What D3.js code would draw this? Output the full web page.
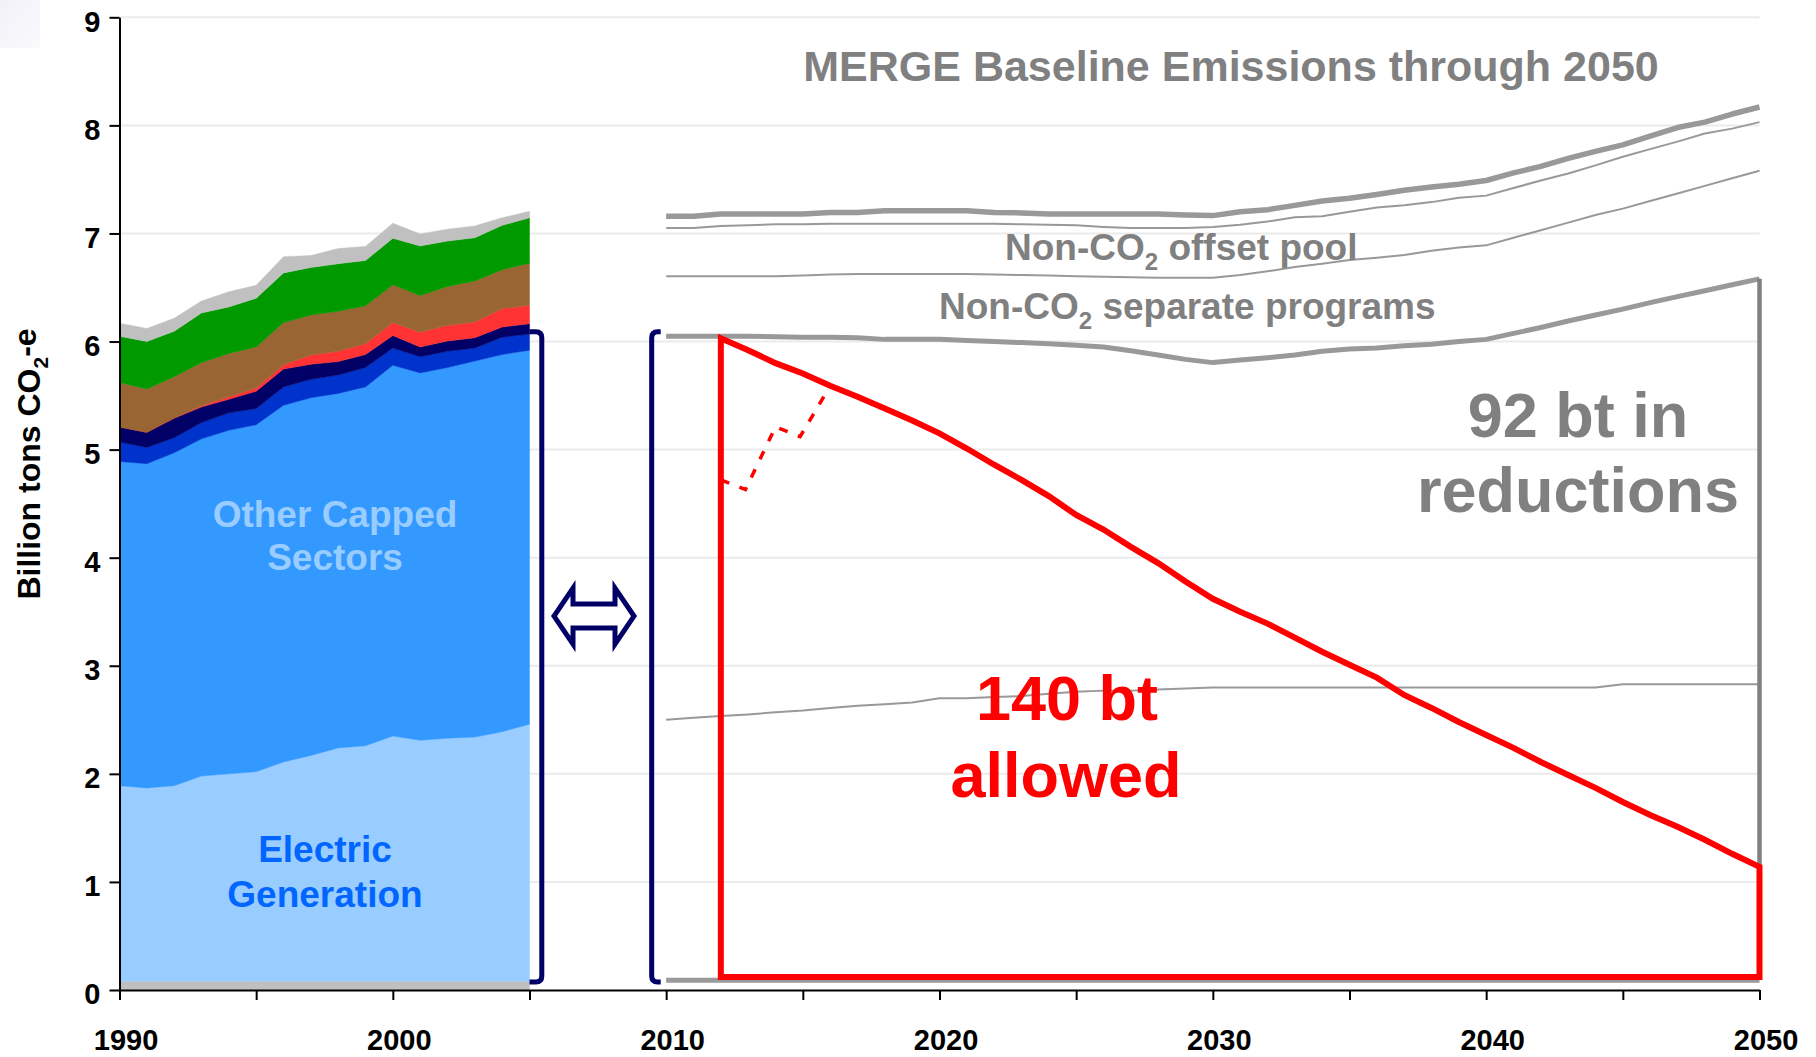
<!DOCTYPE html>
<html>
<head>
<meta charset="utf-8">
<script src="https://cdn.jsdelivr.net/npm/d3@7"></script>
<style>
  html, body { margin: 0; padding: 0; background: #ffffff; }
  svg { display: block; font-family: "Liberation Sans", Arial, Helvetica, sans-serif; font-weight: bold; }
</style>
</head>
<body>
<svg id="chart" width="1816" height="1057"></svg>
<script>
// ---- Historical inventory 1990–2005: thickness of each stacked layer (billion tons CO2-e)
const histYears   = [1990, 1991, 1992, 1993, 1994, 1995, 1996, 1997, 1998, 1999, 2000, 2001, 2002, 2003, 2004, 2005];
const baseGray    = [0.08, 0.08, 0.08, 0.08, 0.08, 0.08, 0.08, 0.08, 0.08, 0.08, 0.08, 0.08, 0.08, 0.08, 0.08, 0.08];
const electric    = [1.81, 1.79, 1.81, 1.90, 1.92, 1.94, 2.03, 2.09, 2.16, 2.18, 2.27, 2.23, 2.25, 2.26, 2.31, 2.38];
const otherCapped = [3.00, 3.00, 3.08, 3.12, 3.18, 3.21, 3.30, 3.31, 3.28, 3.32, 3.43, 3.40, 3.43, 3.48, 3.49, 3.46];
const darkBlue    = [0.18, 0.15, 0.14, 0.15, 0.16, 0.15, 0.17, 0.17, 0.17, 0.18, 0.16, 0.15, 0.15, 0.12, 0.16, 0.15];
const navy        = [0.14, 0.14, 0.18, 0.145, 0.125, 0.16, 0.165, 0.14, 0.125, 0.12, 0.115, 0.09, 0.095, 0.095, 0.095, 0.095];
const redBand     = [0.00, 0.00, 0.005, 0.01, 0.025, 0.03, 0.04, 0.085, 0.095, 0.10, 0.12, 0.135, 0.145, 0.145, 0.17, 0.17];
const brown       = [0.41, 0.40, 0.38, 0.40, 0.40, 0.38, 0.39, 0.37, 0.37, 0.35, 0.35, 0.34, 0.36, 0.38, 0.36, 0.39];
const green       = [0.43, 0.44, 0.42, 0.46, 0.43, 0.45, 0.46, 0.44, 0.44, 0.42, 0.43, 0.46, 0.42, 0.40, 0.41, 0.42];
const topGray     = [0.12, 0.12, 0.12, 0.11, 0.14, 0.12, 0.15, 0.11, 0.14, 0.13, 0.14, 0.11, 0.11, 0.11, 0.07, 0.06];

// ---- MERGE baseline projections 2010–2050
const projYears = [2010, 2011, 2012, 2013, 2014, 2015, 2016, 2017, 2018, 2019, 2020,
                   2021, 2022, 2023, 2024, 2025, 2026, 2027, 2028, 2029, 2030,
                   2031, 2032, 2033, 2034, 2035, 2036, 2037, 2038, 2039, 2040,
                   2041, 2042, 2043, 2044, 2045, 2046, 2047, 2048, 2049, 2050];
const baselineTotal = [7.16, 7.16, 7.18, 7.18, 7.18, 7.18, 7.195, 7.195, 7.21, 7.21, 7.21,
                       7.21, 7.195, 7.19, 7.18, 7.18, 7.18, 7.18, 7.18, 7.17, 7.165,
                       7.20, 7.22, 7.26, 7.30, 7.325, 7.36, 7.40, 7.43, 7.455, 7.49,
                       7.56, 7.62, 7.695, 7.76, 7.82, 7.90, 7.98, 8.03, 8.105, 8.17];
const offsetUpper   = [7.05, 7.05, 7.07, 7.075, 7.085, 7.085, 7.09, 7.09, 7.09, 7.09, 7.09,
                       7.09, 7.09, 7.085, 7.08, 7.075, 7.06, 7.05, 7.05, 7.05, 7.06,
                       7.08, 7.11, 7.15, 7.16, 7.20, 7.24, 7.26, 7.29, 7.33, 7.35,
                       7.42, 7.49, 7.555, 7.63, 7.71, 7.78, 7.85, 7.925, 7.97, 8.03];
const offsetLower   = [6.605, 6.605, 6.605, 6.605, 6.605, 6.61, 6.62, 6.625, 6.625, 6.625, 6.625,
                       6.625, 6.62, 6.615, 6.61, 6.605, 6.60, 6.595, 6.59, 6.59, 6.59,
                       6.615, 6.65, 6.69, 6.72, 6.755, 6.775, 6.80, 6.84, 6.87, 6.89,
                       6.96, 7.03, 7.10, 7.17, 7.23, 7.30, 7.37, 7.44, 7.51, 7.58];
const separateUpper = [6.05, 6.05, 6.05, 6.05, 6.045, 6.04, 6.04, 6.035, 6.02, 6.02, 6.02,
                       6.01, 6.00, 5.99, 5.98, 5.965, 5.95, 5.915, 5.875, 5.835, 5.805,
                       5.83, 5.85, 5.875, 5.91, 5.93, 5.94, 5.96, 5.975, 6.00, 6.02,
                       6.075, 6.13, 6.19, 6.245, 6.30, 6.36, 6.415, 6.47, 6.525, 6.58];
const lowerThin     = [2.50, 2.52, 2.535, 2.55, 2.57, 2.585, 2.61, 2.63, 2.645, 2.66, 2.70,
                       2.70, 2.71, 2.72, 2.74, 2.76, 2.77, 2.77, 2.78, 2.79, 2.80,
                       2.80, 2.80, 2.80, 2.80, 2.80, 2.80, 2.80, 2.80, 2.80, 2.80,
                       2.80, 2.80, 2.80, 2.80, 2.83, 2.83, 2.83, 2.83, 2.83, 2.83];

// ---- Emissions cap path 2012–2050
const capYears  = [2012, 2013, 2014, 2015, 2016, 2017, 2018, 2019, 2020, 2021, 2022, 2023, 2024,
                   2025, 2026, 2027, 2028, 2029, 2030, 2031, 2032, 2033, 2034, 2035, 2036, 2037,
                   2038, 2039, 2040, 2041, 2042, 2043, 2044, 2045, 2046, 2047, 2048, 2049, 2050];
const capValues = [6.03, 5.92, 5.80, 5.705, 5.59, 5.49, 5.38, 5.27, 5.15, 5.01, 4.86, 4.72, 4.57,
                   4.395, 4.26, 4.10, 3.95, 3.78, 3.62, 3.50, 3.39, 3.26, 3.13, 3.01, 2.89, 2.73,
                   2.61, 2.48, 2.36, 2.24, 2.11, 1.99, 1.87, 1.74, 1.62, 1.51, 1.39, 1.26, 1.14];
const capFloor   = 0.12;
const floorLevel = 0.09;

// Early-banking excursion (dotted)
const bankYears  = [2012, 2012.9, 2014, 2014.9, 2016];
const bankValues = [4.72, 4.63, 5.21, 5.12, 5.59];

// ---- Axis ticks
const yTicks = [0, 1, 2, 3, 4, 5, 6, 7, 8, 9];
const xTicks = [1990, 1995, 2000, 2005, 2010, 2015, 2020, 2025, 2030, 2035, 2040, 2045, 2050];

// ---- Drawing
const FONT = '"Liberation Sans", Arial, Helvetica, sans-serif';
const svg = d3.select("#chart");
const x = d3.scaleLinear().domain([1990, 2050]).range([119.5, 1759.5]);
const y = d3.scaleLinear().domain([0, 9]).range([990, 17.3]);

// faint slide corner
const corner = svg.append("defs").append("linearGradient").attr("id", "cornerFade")
  .attr("x1", 0).attr("y1", 0).attr("x2", 1).attr("y2", 1);
corner.append("stop").attr("offset", 0).attr("stop-color", "#f1f1f8");
corner.append("stop").attr("offset", 1).attr("stop-color", "#fafafd");
svg.append("rect").attr("x", 0).attr("y", 0).attr("width", 40).attr("height", 48).attr("fill", "url(#cornerFade)");

// horizontal gridlines
svg.append("g").selectAll("line").data(yTicks.filter(d => d > 0)).join("line")
  .attr("x1", x(1990)).attr("x2", x(2050))
  .attr("y1", d => y(d)).attr("y2", d => y(d))
  .attr("stroke", "#ebebeb").attr("stroke-width", 2);

// stacked historical areas
const layerKeys = ["baseGray", "electric", "otherCapped", "darkBlue", "navy", "redBand", "brown", "green", "topGray"];
const layerSeries = { baseGray, electric, otherCapped, darkBlue, navy, redBand, brown, green, topGray };
const layerColors = {
  baseGray: "#c0c0c0", electric: "#99ccff", otherCapped: "#3399ff", darkBlue: "#0033cc",
  navy: "#000066", redBand: "#ff3333", brown: "#996633", green: "#009900", topGray: "#c0c0c0"
};
const table = histYears.map((yr, i) => {
  const row = { year: yr };
  layerKeys.forEach(k => { row[k] = layerSeries[k][i]; });
  return row;
});
const stacked = d3.stack().keys(layerKeys)(table);
const area = d3.area().x(d => x(d.data.year)).y0(d => y(d[0])).y1(d => y(d[1]));
svg.append("g").selectAll("path").data(stacked).join("path")
  .attr("d", area)
  .attr("fill", d => layerColors[d.key])
  .attr("stroke", d => layerColors[d.key])
  .attr("stroke-width", 0.5);

// baseline projection lines
const line = d3.line().x(d => x(d[0])).y(d => y(d[1]));
const pair = vals => projYears.map((yr, i) => [yr, vals[i]]);
const projLines = [
  { vals: baselineTotal, w: 5.5 },
  { vals: offsetUpper,   w: 2 },
  { vals: offsetLower,   w: 2 },
  { vals: separateUpper, w: 5 },
  { vals: lowerThin,     w: 2 }
];
svg.append("g").selectAll("path").data(projLines).join("path")
  .attr("d", d => line(pair(d.vals)))
  .attr("fill", "none").attr("stroke", "#999999")
  .attr("stroke-width", d => d.w).attr("stroke-linejoin", "round");

// floor line under the cap
svg.append("path")
  .attr("d", line([[projYears[0], floorLevel], [projYears[projYears.length - 1], floorLevel]]))
  .attr("stroke", "#999999").attr("stroke-width", 5).attr("fill", "none");

// reductions bracket at 2050
svg.append("path")
  .attr("d", line([[2050, separateUpper[separateUpper.length - 1]], [2050, capValues[capValues.length - 1]]]))
  .attr("stroke", "#808080").attr("stroke-width", 4.5).attr("fill", "none");

// cap outline: rises at 2012, follows the cap path, closes along the floor
const capOutline = [[capYears[0], capFloor]]
  .concat(capYears.map((yr, i) => [yr, capValues[i]]))
  .concat([[capYears[capYears.length - 1], capFloor]]);
svg.append("path")
  .attr("d", line(capOutline) + "Z")
  .attr("fill", "none").attr("stroke", "#ff0000")
  .attr("stroke-width", 6).attr("stroke-linejoin", "miter");

// dotted banking excursion
svg.append("path")
  .attr("d", line(bankYears.map((yr, i) => [yr, bankValues[i]])))
  .attr("fill", "none").attr("stroke", "#ff0000")
  .attr("stroke-width", 3.5).attr("stroke-dasharray", "9,11");

// navy brackets and double arrow
const bracketTop = 6.09, bracketBottom = 0.075;
function bracket(xv, xh) {
  const t = y(bracketTop), b = y(bracketBottom), r = 6 * Math.sign(xh - xv);
  const p = d3.path();
  p.moveTo(xh, t);
  p.lineTo(xv + r, t);
  p.quadraticCurveTo(xv, t, xv, t + Math.abs(r));
  p.lineTo(xv, b - Math.abs(r));
  p.quadraticCurveTo(xv, b, xv + r, b);
  p.lineTo(xh, b);
  return p.toString();
}
svg.append("path").attr("d", bracket(x(2005.45), x(2005)))
  .attr("fill", "none").attr("stroke", "#000066").attr("stroke-width", 5);
svg.append("path").attr("d", bracket(x(2009.47), x(2009.8)))
  .attr("fill", "none").attr("stroke", "#000066").attr("stroke-width", 5);

const ax = x(2007.36), ay = y(3.46);
const arrowPts = [
  [-40, 0], [-21, -28], [-21, -12], [21, -12], [21, -28], [40, 0],
  [21, 28], [21, 12], [-21, 12], [-21, 28]
].map(([dx, dy]) => [ax + dx, ay + dy]);
svg.append("polygon")
  .attr("points", arrowPts.map(p => p.join(",")).join(" "))
  .attr("fill", "#ffffff").attr("stroke", "#000066")
  .attr("stroke-width", 5).attr("stroke-linejoin", "miter");

// axes
const yAxis = d3.axisLeft(y).tickValues(yTicks).tickSize(10).tickSizeOuter(0).tickPadding(9).tickFormat(d3.format("d"));
const gy = svg.append("g").attr("transform", `translate(${x(1990)},0)`).call(yAxis);
gy.select(".domain").attr("stroke", "#000").attr("stroke-width", 2);
gy.selectAll(".tick line").attr("stroke", "#000").attr("stroke-width", 2);
gy.selectAll(".tick text")
  .attr("font-family", FONT).attr("font-weight", "bold").attr("font-size", 29)
  .attr("fill", "#000").attr("dy", "0.48em");

const xAxis = d3.axisBottom(x).tickValues(xTicks).tickSize(10).tickSizeOuter(0)
  .tickFormat(d => d % 10 === 0 ? String(d) : "");
const gx = svg.append("g").attr("transform", `translate(0,${y(0)})`).call(xAxis);
gx.select(".domain").attr("stroke", "#000").attr("stroke-width", 2);
gx.selectAll(".tick line").attr("stroke", "#000").attr("stroke-width", 2);
gx.selectAll(".tick text")
  .attr("font-family", FONT).attr("font-weight", "bold").attr("font-size", 29)
  .attr("fill", "#000").attr("y", 60).attr("dy", 0).attr("dx", 6);

// y-axis title
const yTitle = svg.append("text")
  .attr("transform", "translate(40,464) rotate(-90)")
  .attr("text-anchor", "middle").attr("font-size", 32).attr("fill", "#000");
yTitle.append("tspan").text("Billion tons CO");
yTitle.append("tspan").attr("font-size", 21).attr("dy", 8).text("2");
yTitle.append("tspan").attr("dy", -12).text("-e");

// annotation text
function label(txt, px, py, size, color, anchor = "middle") {
  return svg.append("text").attr("x", px).attr("y", py)
    .attr("text-anchor", anchor).attr("font-size", size).attr("fill", color).text(txt);
}
label("MERGE Baseline Emissions through 2050", 1231, 81, 43, "#808080");

function subLabel(pre, post, px, py) {
  const t = svg.append("text").attr("x", px).attr("y", py)
    .attr("font-size", 37).attr("fill", "#808080");
  t.append("tspan").text(pre);
  t.append("tspan").attr("font-size", 24).attr("dy", 10).text("2");
  t.append("tspan").attr("dy", -10).text(post);
}
subLabel("Non-CO", " offset pool", 1005, 260);
subLabel("Non-CO", " separate programs", 939, 319);

label("92 bt in", 1578, 437, 63, "#808080");
label("reductions", 1578, 512, 63, "#808080");
label("140 bt", 1067, 720, 63, "#ff0000");
label("allowed", 1066, 797, 63, "#ff0000");
label("Other Capped", 335, 527, 37, "#99ccff");
label("Sectors", 335, 570, 37, "#99ccff");
label("Electric", 325, 862, 37, "#0066ff");
label("Generation", 325, 907, 37, "#0066ff");
</script>
</body>
</html>
